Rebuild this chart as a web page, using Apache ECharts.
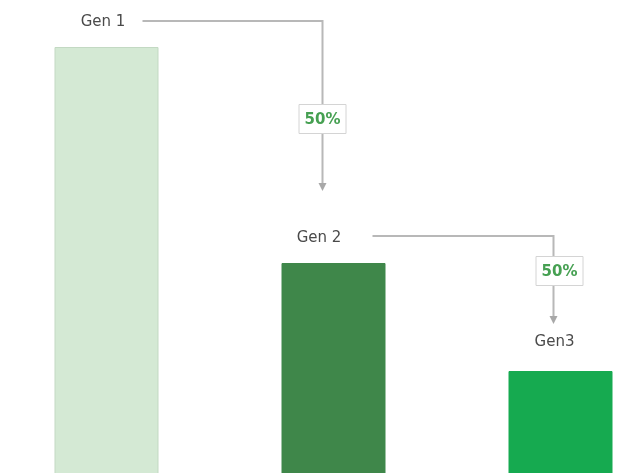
<!DOCTYPE html>
<html>
<head>
<meta charset="utf-8">
<script src="https://cdn.jsdelivr.net/npm/echarts@6/dist/echarts.min.js"></script>
<style>
html,body{margin:0;padding:0;background:#fff;}
#c{width:641px;height:473px;}
</style>
</head>
<body>
<div id="c"></div>
<script>
// ---- data ----
const categories = ['Gen 1', 'Gen 2', 'Gen3'];
const values = [100, 50, 25];
const transferFrom = [0, 1];
const transferTo = [1, 2];
const transferPct = [50, 50];

// ---- styling / layout (pixel offsets relative to bar positions) ----
const barColors = ['#d4e9d4', '#3f874a', '#16aa50'];
const barBorders = ['#c3d9c3', '#3f874a', '#16aa50'];
const labelDx = [-3.5, -14.5, -6];
const labelDy = [-25, -25, -29];
const connStartDx = [36, 39];
const connEndDx = [-11, -7];
const connStartDy = [-26, -27];
const connTipDy = [-72, -47];
const boxDx = [0, 6];
const boxDy = [98, 35];
const FONT = '"DejaVu Sans", Verdana, sans-serif';

const chart = echarts.init(document.getElementById('c'), null, {renderer: 'canvas'});

const barData = values.map((v, i) => ({
  value: v,
  itemStyle: {color: barColors[i], borderColor: barBorders[i], borderWidth: 1}
}));

const connData = transferFrom.map((f, i) => [f, transferTo[i], transferPct[i]]);

chart.setOption({
  animation: false,
  grid: {left: -7, width: 681, top: 47, bottom: -6, containLabel: false, outerBoundsMode: 'none'},
  xAxis: {type: 'category', data: categories, show: false},
  yAxis: {type: 'value', min: 0, max: 100, show: false},
  series: [
    {
      type: 'bar',
      data: barData,
      barWidth: 104,
      silent: true
    },
    {
      type: 'custom',
      silent: true,
      data: categories.map((c, i) => [i]),
      renderItem: function (params, api) {
        const i = api.value(0);
        const p = api.coord([i, values[i]]);
        return {
          type: 'text',
          x: p[0] + labelDx[i],
          y: p[1] + labelDy[i],
          style: {
            text: categories[i],
            fill: '#4a4a4a',
            font: '15px ' + FONT,
            textAlign: 'center',
            textVerticalAlign: 'middle'
          }
        };
      },
      z: 5
    },
    {
      type: 'custom',
      silent: true,
      data: connData,
      renderItem: function (params, api) {
        const k = params.dataIndex;
        const f = api.value(0), t = api.value(1), pct = api.value(2);
        const pf = api.coord([f, values[f]]);
        const pt = api.coord([t, values[t]]);
        const sx = pf[0] + connStartDx[k];
        const sy = pf[1] + connStartDy[k];
        const ex = pt[0] + connEndDx[k];
        const tipY = pt[1] + connTipDy[k];
        const head = 8;
        const lineStyle = {stroke: '#b8b8b8', lineWidth: 2, fill: null};
        const bx = ex + boxDx[k];
        const by = sy + boxDy[k];
        const bw = 47, bh = 29;
        return {
          type: 'group',
          children: [
            {type: 'polyline', shape: {points: [[sx, sy], [ex, sy], [ex, tipY - head]]}, style: lineStyle},
            {type: 'polygon', shape: {points: [[ex - 4, tipY - head], [ex + 4, tipY - head], [ex, tipY]]}, style: {fill: '#a8a8a8'}},
            {type: 'rect', shape: {x: bx - bw / 2, y: by - bh / 2, width: bw, height: bh},
              style: {fill: '#fff', stroke: '#d4d4d4', lineWidth: 1}},
            {type: 'text', x: bx, y: by + 1,
              style: {text: pct + '%', fill: '#46a052', font: 'bold 15px ' + FONT,
                textAlign: 'center', textVerticalAlign: 'middle'}}
          ]
        };
      },
      z: 6
    }
  ]
});
</script>
</body>
</html>
